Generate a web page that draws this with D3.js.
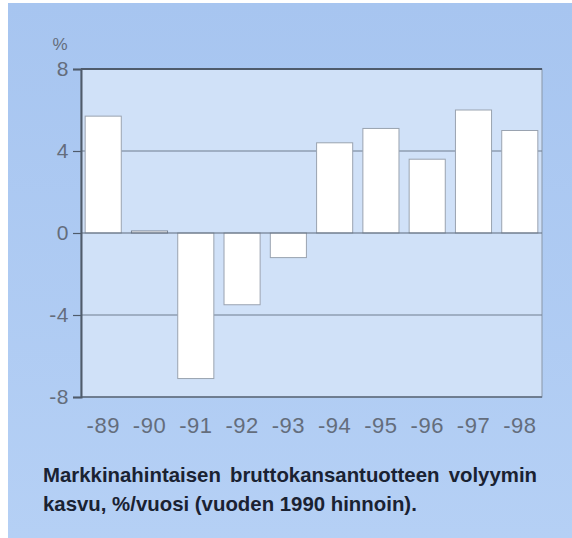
<!DOCTYPE html>
<html>
<head>
<meta charset="utf-8">
<script src="https://cdn.jsdelivr.net/npm/d3@7"></script>
<style>
  body { margin: 0; background: #fff; }
  svg { display: block; }
</style>
</head>
<body>
<div id="chart"></div>
<script>
// data
var years = ["-89", "-90", "-91", "-92", "-93", "-94", "-95", "-96", "-97", "-98"];
var growth = [5.7, 0.1, -7.1, -3.5, -1.2, 4.4, 5.1, 3.6, 6.0, 5.0];
var yTicks = [8, 4, 0, -4, -8];
var captionLines = [
  "Markkinahintaisen bruttokansantuotteen volyymin",
  "kasvu, %/vuosi (vuoden 1990 hinnoin)."
];

var w = 572;
var h = 538;
var plot = { left: 81, right: 542, top: 69, bottom: 397 };
var labelFont = "'Liberation Sans', Arial, Helvetica, sans-serif";

var svg = d3
  .select("#chart")
  .append("svg")
  .attr("width", w)
  .attr("height", h);

// outer blue panel
var grad = svg.append("defs").append("linearGradient")
  .attr("id", "panel").attr("x1", 0).attr("y1", 0).attr("x2", 0).attr("y2", 1);
grad.append("stop").attr("offset", "0%").attr("stop-color", "#a7c5f0");
grad.append("stop").attr("offset", "100%").attr("stop-color", "#b5d0f5");

svg.append("rect")
  .attr("x", 8).attr("y", 3)
  .attr("width", w - 8).attr("height", h - 3)
  .attr("fill", "url(#panel)");

var xScale = d3
  .scaleBand()
  .domain(years)
  .range([plot.left, plot.right])
  .paddingInner(0.22)
  .paddingOuter(0.09);

var yScale = d3
  .scaleLinear()
  .domain([-8, 8])
  .range([plot.bottom, plot.top]);

// inner plot background
svg.append("rect")
  .attr("x", plot.left).attr("y", plot.top)
  .attr("width", plot.right - plot.left)
  .attr("height", plot.bottom - plot.top)
  .attr("fill", "#d0e1f8")
  .attr("stroke", "#8a97a8")
  .attr("stroke-width", 1);

// gridlines at +-4
svg.append("g")
  .selectAll("line")
  .data([4, -4])
  .enter()
  .append("line")
  .attr("x1", plot.left).attr("x2", plot.right)
  .attr("y1", (d) => yScale(d)).attr("y2", (d) => yScale(d))
  .attr("stroke", "#6f7d8f")
  .attr("stroke-width", 1);

// bars
svg.append("g")
  .selectAll("rect")
  .data(growth)
  .enter()
  .append("rect")
  .attr("x", (d, i) => xScale(years[i]))
  .attr("y", (d) => yScale(Math.max(0, d)))
  .attr("width", xScale.bandwidth())
  .attr("height", (d) => Math.abs(yScale(d) - yScale(0)))
  .attr("fill", "#ffffff")
  .attr("stroke", (d) => Math.abs(d) < 0.5 ? "#7c8696" : "#9aa3b0")
  .attr("stroke-width", 1);

// zero line, top and bottom frame lines
svg.append("line")
  .attr("x1", plot.left).attr("x2", plot.right)
  .attr("y1", yScale(0)).attr("y2", yScale(0))
  .attr("stroke", "#5d6a7c").attr("stroke-width", 1.2);

svg.append("line")
  .attr("x1", plot.left).attr("x2", plot.right)
  .attr("y1", yScale(8)).attr("y2", yScale(8))
  .attr("stroke", "#4f5b6b").attr("stroke-width", 2);

svg.append("line")
  .attr("x1", plot.left).attr("x2", plot.right)
  .attr("y1", yScale(-8)).attr("y2", yScale(-8))
  .attr("stroke", "#5d6a7c").attr("stroke-width", 1.5);

// Y axis
var yAxis = d3.axisLeft(yScale)
  .tickValues(yTicks)
  .tickFormat((d) => String(d))
  .tickSize(8)
  .tickPadding(4);
var gy = svg.append("g")
  .attr("transform", "translate(" + plot.left + ",0)")
  .call(yAxis);
gy.select(".domain").attr("stroke", "#4f5b6b").attr("stroke-width", 2);
gy.selectAll(".tick line").attr("stroke", "#4f5b6b").attr("stroke-width", 1.2);
gy.selectAll(".tick text")
  .attr("fill", "#646d7c")
  .style("font-family", labelFont)
  .style("font-size", "21px")
  .style("letter-spacing", "0.5px");

svg.append("text")
  .attr("x", 60).attr("y", 50)
  .attr("text-anchor", "middle")
  .attr("fill", "#646d7c")
  .style("font-family", labelFont)
  .style("font-size", "17px")
  .text("%");

// X axis labels
var xAxis = d3.axisBottom(xScale).tickSize(0).tickPadding(20);
var gx = svg.append("g")
  .attr("transform", "translate(0," + plot.bottom + ")")
  .call(xAxis);
gx.select(".domain").remove();
gx.selectAll(".tick text")
  .attr("fill", "#646d7c")
  .attr("dy", null)
  .attr("y", 36)
  .style("font-family", labelFont)
  .style("font-size", "22px")
  .style("letter-spacing", "0.5px");

// caption: condensed bold, first line justified to the plot width
var capLeft = 43;
var capRight = 537;
var line2Right = 417;
var capBase = [482, 511];

var capTexts = captionLines.map(function (line, i) {
  return svg.append("text")
    .attr("x", 0)
    .attr("y", 0)
    .attr("fill", "#1a2232")
    .style("font-family", labelFont)
    .style("font-weight", "bold")
    .style("font-size", "20px")
    .text(line);
});

// squeeze so the second line has the reference width
var sx = (line2Right - capLeft) / capTexts[1].node().getComputedTextLength();
capTexts.forEach(function (t, i) {
  t.attr("transform", "translate(" + capLeft + "," + capBase[i] + ") scale(" + sx + ",1)");
});
var len1 = capTexts[0].node().getComputedTextLength();
var gaps = captionLines[0].split(" ").length - 1;
var extra = ((capRight - capLeft) / sx - len1) / gaps;
capTexts[0].style("word-spacing", extra + "px");
</script>
</body>
</html>
